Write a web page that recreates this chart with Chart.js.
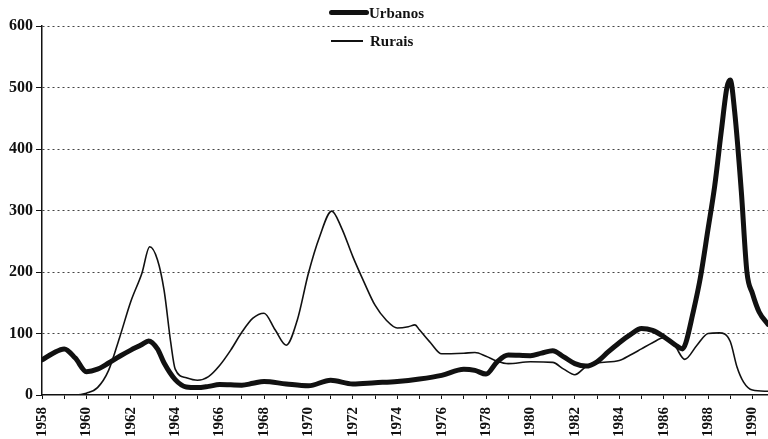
<!DOCTYPE html>
<html>
<head>
<meta charset="utf-8">
<script src="https://cdn.jsdelivr.net/npm/chart.js@4/dist/chart.umd.min.js"></script>
<style>
  html, body { margin: 0; padding: 0; background: #fff; }
  #wrap { position: relative; width: 768px; height: 439px; overflow: hidden; }
  canvas { position: absolute; left: 0; top: 0; }
  .lg { position: absolute; font-family: "Liberation Serif", "Times New Roman", serif; font-weight: bold; font-size: 15px; color: #111; line-height: 16px; }
  .ln { position: absolute; background: #111; }
</style>
</head>
<body>
<div id="wrap">
  <canvas id="c" width="768" height="439"></canvas>
  <div class="ln" style="left:329px; top:10px; width:40px; height:5px; border-radius:3px;"></div>
  <div class="lg" id="lg1" style="left:369px; top:5px;"></div>
  <div class="ln" style="left:331px; top:40px; width:32px; height:1.6px;"></div>
  <div class="lg" id="lg2" style="left:370px; top:33px;"></div>
</div>
<script>
// ---- data ----
const seriesNames = ["Urbanos", "Rurais"];

const urbanosYears = [1958, 1958.5, 1959, 1959.5, 1960, 1960.5, 1961, 1961.5, 1962, 1962.5, 1962.8, 1963.2, 1963.5, 1964, 1964.5, 1965, 1965.5, 1966, 1967, 1967.5, 1968, 1969, 1970, 1971, 1972, 1973, 1974, 1975, 1976, 1977, 1977.5, 1978, 1978.5, 1979, 1980, 1980.5, 1981, 1981.5, 1982, 1982.5, 1983, 1983.5, 1984, 1984.5, 1985, 1985.5, 1986, 1986.5, 1986.85, 1987, 1987.3, 1987.65, 1988, 1988.3, 1988.6, 1988.85, 1989, 1989.2, 1989.5, 1989.75, 1990, 1990.3, 1990.7];
const urbanosValues = [57, 68, 75, 60, 38, 42, 52, 63, 73, 82, 88, 75, 52, 25, 13, 12, 14, 17, 16, 19, 22, 18, 15, 24, 18, 20, 22, 26, 32, 42, 40, 34, 54, 65, 64, 68, 72, 62, 51, 47, 54, 70, 85, 98, 108, 105, 95, 82, 75, 85, 130, 190, 270, 340, 430, 500, 512, 460, 330, 200, 165, 135, 115];

const ruraisYears = [1958, 1959, 1959.5, 1960, 1960.5, 1961, 1961.5, 1962, 1962.5, 1962.85, 1963.2, 1963.5, 1963.8, 1964, 1964.5, 1965, 1965.5, 1966, 1966.5, 1967, 1967.5, 1968, 1968.5, 1969, 1969.5, 1970, 1970.5, 1971.05, 1971.5, 1972, 1972.5, 1973, 1973.5, 1974, 1974.5, 1974.8, 1975, 1975.5, 1976, 1977, 1977.5, 1978, 1978.5, 1979, 1980, 1981, 1981.5, 1982, 1982.5, 1983, 1984, 1984.5, 1985, 1985.5, 1986, 1986.5, 1986.95, 1987.5, 1988, 1988.5, 1989, 1989.3, 1989.6, 1990, 1990.7];
const ruraisValues = [0, 0, 0, 3, 12, 40, 94, 152, 198, 241, 220, 170, 85, 42, 28, 24, 30, 48, 73, 102, 125, 133, 106, 81, 122, 198, 257, 299, 271, 225, 184, 146, 122, 109, 111, 114, 106, 85, 67, 68, 69, 63, 55, 51, 54, 53, 42, 33, 46, 52, 56, 65, 75, 85, 93, 80, 58, 81, 100, 101, 87, 46, 21, 8, 6];

const xTickYears = [1958, 1959, 1960, 1961, 1962, 1963, 1964, 1965, 1966, 1967, 1968, 1969, 1970, 1971, 1972, 1973, 1974, 1975, 1976, 1977, 1978, 1979, 1980, 1981, 1982, 1983, 1984, 1985, 1986, 1987, 1988, 1989, 1990];
const yTicks = [0, 100, 200, 300, 400, 500, 600];
const xMin = 1958, xMax = 1990.7;

document.getElementById('lg1').textContent = seriesNames[0];
document.getElementById('lg2').textContent = seriesNames[1];

const toXY = (xs, ys) => xs.map((x, i) => ({x: x, y: ys[i]}));
const tickFont = { family: "'Liberation Serif', 'Times New Roman', serif", weight: 'bold', size: 15 };

new Chart(document.getElementById('c'), {
  type: 'line',
  data: {
    datasets: [
      { label: seriesNames[0], data: toXY(urbanosYears, urbanosValues), borderColor: '#111', borderWidth: 5, pointRadius: 0, cubicInterpolationMode: 'monotone', fill: false, borderCapStyle: 'round', borderJoinStyle: 'round' },
      { label: seriesNames[1], data: toXY(ruraisYears, ruraisValues), borderColor: '#111', borderWidth: 1.6, pointRadius: 0, cubicInterpolationMode: 'monotone', fill: false }
    ]
  },
  options: {
    responsive: false,
    animation: false,
    devicePixelRatio: 1,
    layout: { padding: { top: 26, left: 0, right: 0, bottom: 0 } },
    plugins: { legend: { display: false }, tooltip: { enabled: false } },
    scales: {
      x: {
        type: 'linear', min: xMin, max: xMax,
        afterBuildTicks: s => { s.ticks = xTickYears.map(v => ({ value: v })); },
        afterFit: s => { s.height = 44; s.paddingRight = 0; s.paddingLeft = 0; },
        ticks: { autoSkip: false, minRotation: 90, maxRotation: 90, padding: 8, color: '#111', font: tickFont,
          callback: v => (v % 2 === 0 ? String(v) : '') },
        grid: { drawOnChartArea: false, drawTicks: true, tickLength: 4, color: '#111', tickColor: '#111', lineWidth: 1 },
        border: { display: true, color: '#111', width: 1.5 }
      },
      y: {
        min: 0, max: 600,
        afterBuildTicks: s => { s.ticks = yTicks.map(v => ({ value: v })); },
        afterFit: s => { s.width = 42; s.paddingTop = 0; s.paddingBottom = 0; },
        ticks: { padding: 3, color: '#111', font: { family: "'Liberation Serif', 'Times New Roman', serif", weight: 'bold', size: 16 } },
        grid: { drawTicks: true, tickLength: 6, tickColor: '#111', color: ctx => (ctx.tick && ctx.tick.value === 0 ? 'rgba(0,0,0,0)' : '#444'), lineWidth: 1 },
        border: { display: true, color: '#111', width: 1.5, dash: [2, 3] }
      }
    }
  }
});
</script>
</body>
</html>
